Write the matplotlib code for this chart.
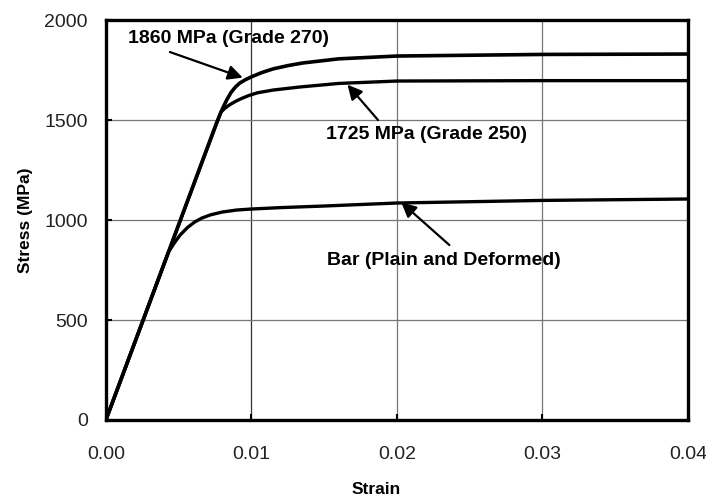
import matplotlib
matplotlib.use('Agg')
import matplotlib.pyplot as plt

plt.rcParams['font.family'] = ['Liberation Sans', 'DejaVu Sans']

# Dane (odkształcenie, naprężenie w MPa)
strain_1860 = [0, 0.0066, 0.0076, 0.0080, 0.0083, 0.0086, 0.0089, 0.0092, 0.0096, 0.0100, 0.0107, 0.0115,
               0.0125, 0.0135, 0.016, 0.020, 0.030, 0.040]
stress_1860 = [0, 1290, 1485, 1555, 1600, 1638, 1665, 1685, 1702, 1716, 1737, 1756,
               1772, 1785, 1806, 1820, 1828, 1830]

strain_1725 = [0, 0.0079, 0.0082, 0.0085, 0.0089, 0.0093, 0.0098, 0.0104, 0.0115, 0.0133, 0.016, 0.020, 0.030, 0.040]
stress_1725 = [0, 1540, 1560, 1576, 1593, 1607, 1622, 1636, 1650, 1665, 1683, 1695, 1697, 1697]

strain_bar = [0, 0.0043, 0.0047, 0.0051, 0.0056, 0.0061, 0.0066, 0.0072, 0.0080, 0.0090, 0.0100, 0.0120,
              0.0150, 0.0200, 0.0300, 0.0400]
stress_bar = [0, 840, 885, 925, 962, 990, 1010, 1026, 1040, 1050, 1055, 1062,
              1070, 1085, 1098, 1105]

x_ticks = [0.00, 0.01, 0.02, 0.03, 0.04]
x_tick_labels = ['0.00', '0.01', '0.02', '0.03', '0.04']
y_ticks = [0, 500, 1000, 1500, 2000]
grid_x = [0.01, 0.02, 0.03]
grid_y = [500, 1000, 1500]

# Opisy: tekst, pozycja tekstu, początek strzałki, grot strzałki
labels = ['1860 MPa (Grade 270)', '1725 MPa (Grade 250)', 'Bar (Plain and Deformed)']
label_pos = [(0.0084, 1910), (0.0220, 1430), (0.0232, 800)]
arrow_tail = [(0.0044, 1840), (0.0187, 1500), (0.0236, 875)]
arrow_tip = [(0.0094, 1712), (0.0166, 1677), (0.0203, 1088)]

fig = plt.figure(figsize=(7.06, 5.01), dpi=100)
ax = fig.add_axes([0.150, 0.1617, 0.8245, 0.7983])

# siatka
for gx in grid_x:
    ax.axvline(gx, color='#333333' if gx == 0.01 else '#777777', lw=0.9, zorder=1)
for gy in grid_y:
    ax.axhline(gy, color='#777777', lw=0.9, zorder=1)

ax.plot(strain_1860, stress_1860, color='black', lw=2.6, solid_joinstyle='round', zorder=3)
ax.plot(strain_1725, stress_1725, color='black', lw=2.4, solid_joinstyle='round', zorder=3)
ax.plot(strain_bar, stress_bar, color='black', lw=2.4, solid_joinstyle='round', zorder=3)

for txt, pos, tail, tip in zip(labels, label_pos, arrow_tail, arrow_tip):
    ax.text(pos[0], pos[1], txt, ha='center', va='center', fontsize=14, fontweight='bold', zorder=4)
    ax.annotate('', xy=tip, xytext=tail,
                arrowprops=dict(arrowstyle='-|>', lw=1.6, color='black', mutation_scale=22,
                                shrinkA=0, shrinkB=0), zorder=4)

ax.set_xlim(0, 0.04)
ax.set_ylim(0, 2000)
ax.set_xticks(x_ticks)
ax.set_xticklabels(x_tick_labels)
ax.set_yticks(y_ticks)
ax.tick_params(axis='x', direction='in', length=4, width=1.5, pad=19, labelsize=14, labelcolor='#222222')
ax.tick_params(axis='y', direction='in', length=4, width=1.5, pad=13, labelsize=14, labelcolor='#222222')

for s in ax.spines.values():
    s.set_linewidth(2.4)

ax.set_xlabel('Strain', fontsize=12.5, fontweight='bold')
ax.xaxis.set_label_coords(0.465, -0.155)
ax.set_ylabel('Stress (MPa)', fontsize=12.5, fontweight='bold')
ax.yaxis.set_label_coords(-0.125, 0.5)

fig.savefig('out.png', dpi=100)
